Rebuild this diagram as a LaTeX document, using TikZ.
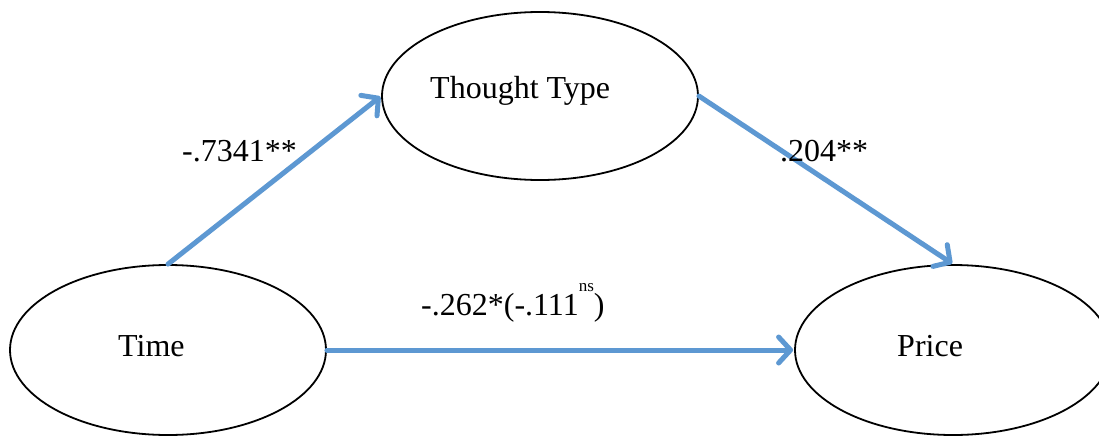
\documentclass[tikz,border=0pt]{standalone}
\usepackage{fontspec}
\setmainfont{Liberation Serif}
\usetikzlibrary{arrows.meta,shapes.geometric}
\definecolor{arrowblue}{RGB}{93,152,210}
\tikzset{
  oval/.style={draw=black, line width=1.8pt, ellipse, fill=white, inner sep=0pt},
  lbl/.style={font=\fontsize{32}{38}\selectfont, inner sep=0pt, anchor=base west},
  conn/.style={draw=arrowblue, line width=5pt, line cap=round,
    -{Straight Barb[length=12pt,width=26pt,line width=5pt,round]}, shorten >=1pt}
}
\begin{document}
\begin{tikzpicture}[x=1pt,y=-1pt]
\useasboundingbox (0,0) rectangle (1099,436);
\clip (0,0) rectangle (1099,436);
\fill[white] (0,0) rectangle (1099,436);
\node[oval, minimum width=316pt, minimum height=168pt] (thought) at (540,96) {};
\node[oval, minimum width=316pt, minimum height=170pt] (time) at (168,350) {};
\node[oval, minimum width=316pt, minimum height=170pt] (price) at (953,350) {};
\node[lbl] (thoughtt) at (430,98) {Thought Type};
\node[lbl] (timet) at (118,356) {Time};
\node[lbl] (pricet) at (897,356) {Price};
\draw[conn] (time.north) -- (thought.west);
\draw[conn] (thought.east) -- (price.north);
\draw[conn] (time.east) -- (price.west);
\node[lbl] (l1) at (182,161) {-.7341**};
\node[lbl] (l2) at (780,161) {.204**};
\node[lbl] (l3) at (421,315) {-.262*(-.111\raisebox{24pt}{\fontsize{17}{20}\selectfont ns})};
\end{tikzpicture}
\end{document}
